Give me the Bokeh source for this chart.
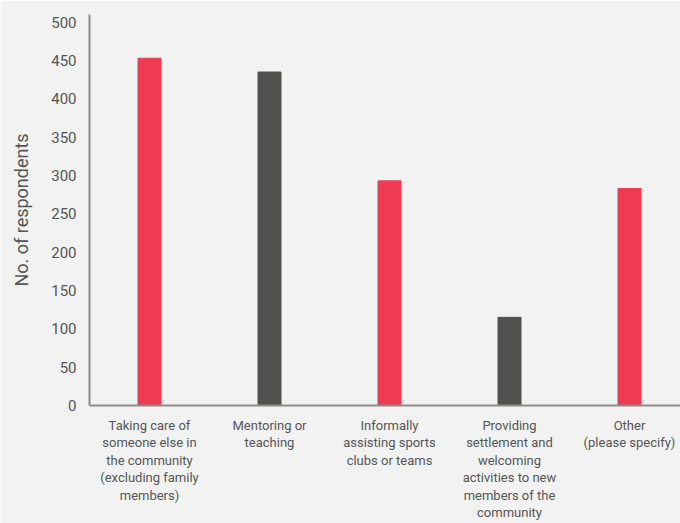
from bokeh.plotting import figure
from bokeh.models import ColumnDataSource, FixedTicker, Range1d
from bokeh.embed import file_html
from bokeh.resources import INLINE

categories = [
    "Taking care of\nsomeone else in\nthe community\n(excluding family\nmembers)",
    "Mentoring or\nteaching",
    "Informally\nassisting sports\nclubs or teams",
    "Providing\nsettlement and\nwelcoming\nactivities to new\nmembers of the\ncommunity",
    "Other\n(please specify)",
]
values = [453, 435, 293, 115, 283]
y_ticks = [0, 50, 100, 150, 200, 250, 300, 350, 400, 450, 500]

RED = "#f03a52"
DARK = "#50514c"
colors = [RED, DARK, RED, DARK, RED]

positions = [i + 0.5 for i in range(len(categories))]
source = ColumnDataSource(data=dict(x=positions, top=values, color=colors))

FONT = "Roboto"
BG = "#f2f2f2"

p = figure(width=680, height=523, output_backend="svg", toolbar_location=None,
           x_range=Range1d(0, 591 / 120), y_range=Range1d(0, 510),
           min_border_left=89, min_border_top=14, min_border_right=0, min_border_bottom=0,
           background_fill_color=BG, border_fill_color=BG, outline_line_color=None)

p.vbar(x="x", top="top", width=23 / 120, color="color", source=source)

p.xgrid.grid_line_color = None
p.ygrid.grid_line_color = None

p.xaxis.ticker = FixedTicker(ticks=positions)
p.xaxis.major_label_overrides = {pos: cat for pos, cat in zip(positions, categories)}
p.yaxis.ticker = FixedTicker(ticks=y_ticks)

for ax in (p.xaxis, p.yaxis):
    ax.axis_line_color = "#8c8c8c"
    ax.axis_line_width = 2
    ax.major_tick_line_color = None
    ax.minor_tick_line_color = None
    ax.major_tick_out = 0
    ax.major_tick_in = 0
    ax.minor_tick_out = 0
    ax.minor_tick_in = 0
    ax.major_label_text_font = FONT
    ax.major_label_text_color = "#555555"

p.yaxis.major_label_text_font_size = "15px"
p.yaxis.major_label_standoff = 13
p.xaxis.major_label_text_font_size = "13px"
p.xaxis.major_label_text_line_height = 1.17
p.xaxis.major_label_standoff = 12
p.xaxis.axis_label_standoff = 0
p.yaxis.axis_label = "No. of respondents"
p.yaxis.axis_label_text_font = FONT
p.yaxis.axis_label_text_font_style = "normal"
p.yaxis.axis_label_text_font_size = "18px"
p.yaxis.axis_label_text_color = "#555555"
p.yaxis.axis_label_standoff = 16

open("out.html", "w").write(file_html(p, INLINE))
